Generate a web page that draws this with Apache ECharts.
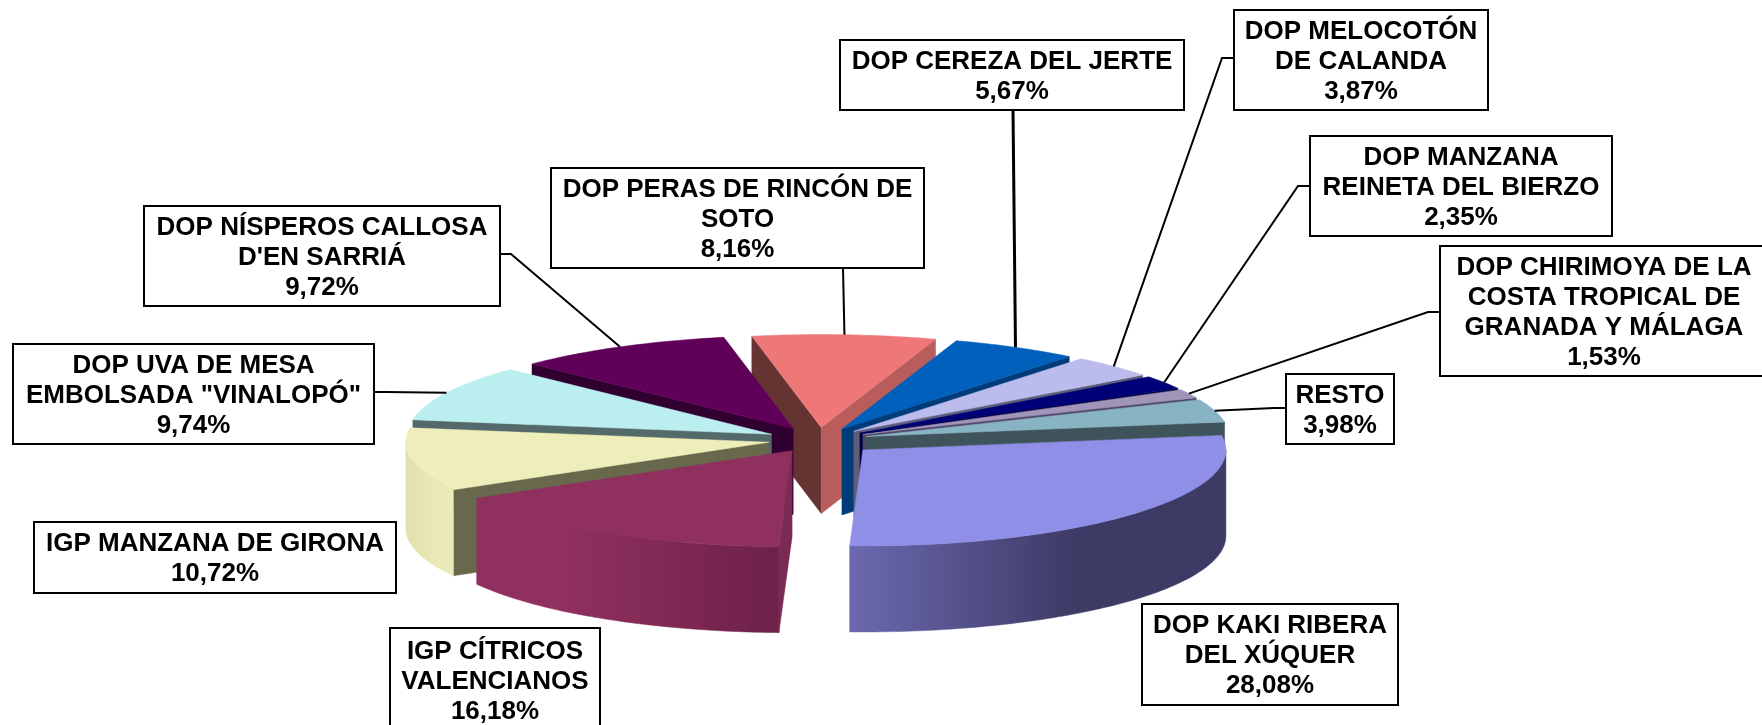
<!DOCTYPE html>
<html>
<head>
<meta charset="utf-8">
<style>html,body{margin:0;padding:0;background:#fff}#c{width:1762px;height:725px}</style>
<script src="https://cdn.jsdelivr.net/npm/echarts@6/dist/echarts.min.js"></script>
</head>
<body>
<div id="c"></div>
<script>
// ---- data ----
const categories = [
  "DOP KAKI RIBERA\nDEL XÚQUER",
  "IGP CÍTRICOS\nVALENCIANOS",
  "IGP MANZANA DE GIRONA",
  "DOP UVA DE MESA\nEMBOLSADA \"VINALOPÓ\"",
  "DOP NÍSPEROS CALLOSA\nD'EN SARRIÁ",
  "DOP PERAS DE RINCÓN DE\nSOTO",
  "DOP CEREZA DEL JERTE",
  "DOP MELOCOTÓN\nDE CALANDA",
  "DOP MANZANA\nREINETA DEL BIERZO",
  "DOP CHIRIMOYA DE LA\nCOSTA TROPICAL DE\nGRANADA Y MÁLAGA",
  "RESTO"
];
const shares = [28.08, 16.18, 10.72, 9.74, 9.72, 8.16, 5.67, 3.87, 2.35, 1.53, 3.98];
const explosion = [60, 50, 50, 52, 52, 50, 50, 50, 50, 50, 50];

// ---- colours ----
const topColors   = ['#8F8FE8','#90305E','#EEEEBB','#BBEEEE','#600058','#EE7777','#0060BB','#BBBBEE','#000078','#A094B8','#88B3C3'];
const startFaces  = ['#4A4870','#7A2A55','#68684C','#54696A','#300030','#663333','#003C78','#5E5E78','#000040','#50486A','#3F535A'];
const endFaces    = ['#4A4870','#7A2A55','#68684C','#54696A','#300030','#B85C5C','#003C78','#5E5E78','#000040','#50486A','#3F535A'];
const rimLeft     = ['#6C69B0','#90305E','#E2E1AE','#BBEEEE','#600058','#EE7777','#0060BB','#BBBBEE','#000078','#A094B8','#88B3C3'];
const rimRight    = ['#3D3A66','#6D2148','#ECEBBA','#BBEEEE','#600058','#EE7777','#0060BB','#BBBBEE','#000078','#A094B8','#88B3C3'];
const rimHold     = [0.6, 1, 1, 1, 1, 1, 1, 1, 1, 1, 1];
const rimLead     = [0, 0.3, 0, 0, 0, 0, 0, 0, 0, 0, 0];

// ---- label boxes: [left, top, right, bottom] ----
const labelBoxes = [
  [1142,604,1398,705],[390,628,600,732],[34,522,396,593],[13,344,374,444],
  [144,206,500,306],[551,168,924,268],[840,40,1184,110],[1234,10,1488,110],
  [1310,136,1612,236],[1440,246,1768,376],[1286,374,1394,444]
];
// leader start + elbow, the end is derived from the slice
const leaderStarts = [
  null,null,null,
  [[374,392],[386,392]],
  [[500,254],[511,254]],
  [[843,268]],
  [[1013,110]],
  [[1234,58],[1222,58]],
  [[1310,186],[1298,186]],
  [[1440,312],[1428,312]],
  [[1286,408],[1274,408]]
];
const leaderWidths = [0,0,0,2,2,2,3,2,2,2,2];

// ---- projection ----
const CX = 818, CY = 440, RX = 363, RY_BACK = 93, RY_FRONT = 96, DEPTH = 86, START_DEG = -9, SQUASH = 0.25;
const TEXT_SHIFT = 1.5;
const FONT = 'bold 26px "Liberation Sans", Arial, sans-serif';
const rad = d => d * Math.PI / 180;
const ellY = t => { const s = Math.sin(t); return (s > 0 ? RY_FRONT : RY_BACK) * s; };

let acc = START_DEG;
const spans = shares.map(v => { const a = acc; acc += v * 3.6; return [a, acc]; });
const mids = spans.map(s => (s[0] + s[1]) / 2);
const order = mids.map((m, i) => [Math.sin(rad(m)), i]).sort((a, b) => a[0] - b[0]).map(p => p[1]);

function arcPts(ax, ay, from, to, dy) {
  const pts = [];
  const n = Math.max(2, Math.ceil(to - from));
  for (let k = 0; k <= n; k++) {
    const t = rad(from + (to - from) * k / n);
    pts.push([ax + RX * Math.cos(t), ay + ellY(t) + dy]);
  }
  return pts;
}

function renderItem(params, api) {
  const i = api.value(1);
  const [s, e] = spans[i];
  const mid = mids[i];
  const rank = order.indexOf(i) * 10 + 1;
  const d = explosion[i];
  const ax = CX + d * Math.cos(rad(mid));
  const ay = CY + d * SQUASH * Math.sin(rad(mid));
  const children = [];
  const poly = (pts, fill, z) => children.push({
    type: 'polygon', shape: { points: pts }, z2: z,
    style: { fill: fill, stroke: fill, lineWidth: 0.5 }, silent: true
  });
  const face = (ang, fill) => {
    const t = rad(ang);
    const ex = ax + RX * Math.cos(t), ey = ay + ellY(t);
    poly([[ax, ay], [ex, ey], [ex, ey + DEPTH], [ax, ay + DEPTH]], fill, rank);
  };
  if (Math.cos(rad(s)) < 0) face(s, startFaces[i]);
  if (Math.cos(rad(e)) > 0) face(e, endFaces[i]);
  // outer wall, only the near half of the ellipse shows
  const from = Math.max(s, 0), to = Math.min(e, 180);
  if (to > from) {
    const up = arcPts(ax, ay, from, to, 0);
    const down = arcPts(ax, ay, from, to, DEPTH).reverse();
    poly(up.concat(down), {
      type: 'linear', x: 0, y: 0, x2: 1, y2: 0,
      colorStops: [
        { offset: 0, color: rimLeft[i] },
        { offset: rimLead[i], color: rimLeft[i] },
        { offset: rimHold[i], color: rimRight[i] },
        { offset: 1, color: rimRight[i] }
      ]
    }, rank + 1);
  }
  // top
  poly([[ax, ay]].concat(arcPts(ax, ay, s, e, 0)), topColors[i], rank + 2);

  // leader
  if (leaderStarts[i]) {
    const end = [ax + RX * Math.cos(rad(mid)), ay + ellY(rad(mid))];
    children.push({
      type: 'polyline', shape: { points: leaderStarts[i].concat([end]) }, z2: 500,
      style: { fill: null, stroke: '#000', lineWidth: leaderWidths[i] }, silent: true
    });
  }
  // label box
  const b = labelBoxes[i];
  children.push({
    type: 'rect', shape: { x: b[0], y: b[1], width: b[2] - b[0], height: b[3] - b[1] }, z2: 600,
    style: { fill: '#fff', stroke: '#000', lineWidth: 2 }, silent: true
  });
  children.push({
    type: 'text', z2: 601, silent: true,
    style: {
      x: (b[0] + b[2]) / 2, y: (b[1] + b[3]) / 2 + TEXT_SHIFT,
      text: categories[i] + '\n' + api.value(0).toFixed(2).replace('.', ',') + '%',
      font: FONT, lineHeight: 30, fill: '#000',
      align: 'center', verticalAlign: 'middle'
    }
  });
  return { type: 'group', children: children };
}

const chart = echarts.init(document.getElementById('c'), null, { renderer: 'canvas' });
chart.setOption({
  animation: false,
  backgroundColor: '#fff',
  series: [{
    type: 'custom',
    coordinateSystem: 'none',
    renderItem: renderItem,
    clip: false,
    data: shares.map((v, i) => [v, i])
  }]
});
</script>
</body>
</html>
